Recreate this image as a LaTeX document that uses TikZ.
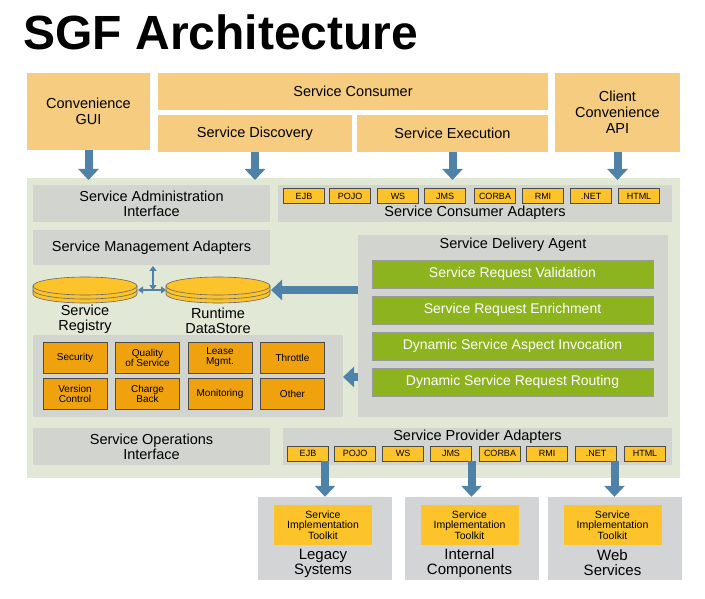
\documentclass[tikz,border=0pt]{standalone}
\usepackage{fontspec}
\setmainfont{Liberation Sans}
\usetikzlibrary{arrows.meta}
\definecolor{tan}{HTML}{F6CD80}
\definecolor{panel}{HTML}{E1E8D5}
\definecolor{gbox}{HTML}{D2D5CF}
\definecolor{org}{HTML}{F0A20E}
\definecolor{yel}{HTML}{FCC42A}
\definecolor{grn}{HTML}{8DB41E}
\definecolor{arr}{HTML}{4F82A8}
\definecolor{bot}{HTML}{D3D4D6}
\begin{document}
\begin{tikzpicture}[x=1pt,y=-1pt,
  tanbox/.style={fill=tan,draw=none,font=\fontsize{14.5}{16}\selectfont,align=center},
  gray/.style={fill=gbox,draw=none,font=\fontsize{14.5}{15}\selectfont,align=center},
  small/.style={fill=yel,draw=black!70,line width=0.6pt,font=\fontsize{9}{10}\selectfont,minimum width=41pt,minimum height=15pt,inner sep=0pt},
  pol/.style={fill=org,draw=black!70,line width=0.6pt,font=\fontsize{10}{10}\selectfont,align=center,minimum width=64pt,minimum height=31pt,inner sep=0pt},
  bar/.style={fill=grn,draw=black!40,text=white,font=\fontsize{14}{16}\selectfont,minimum width=281pt,minimum height=28pt,inner sep=0pt},
  fat/.style={arr,line width=8pt,-{Triangle[width=20pt,length=11pt]}},
  thin/.style={arr,line width=2.2pt,{Triangle[width=7pt,length=5pt]}-{Triangle[width=7pt,length=5pt]}},
  disk/.style={fill=yel,draw=black!60,line width=0.6pt},
  lbl/.style={font=\fontsize{14.5}{15}\selectfont,align=center,inner sep=0pt}]
\useasboundingbox (0,0) rectangle (705,599);
\node[anchor=west,font=\bfseries\fontsize{48}{50}\selectfont] (title) at (20,32) {SGF Architecture};
% top
\node[tanbox,minimum width=123pt,minimum height=77pt] (gui) at (88.5,111.5) {Convenience\\GUI};
\node[tanbox,minimum width=390pt,minimum height=37pt] (cons) at (353,91.5) {Service Consumer};
\node[tanbox,minimum width=194pt,minimum height=37pt] (disc) at (255,133.5) {Service Discovery};
\node[tanbox,minimum width=191pt,minimum height=37pt] (exec) at (452.5,133.5) {Service Execution};
\node[tanbox,minimum width=125pt,minimum height=79pt] (api) at (617.5,112.5) {Client\\Convenience\\API};
% panel
\node[fill=panel,minimum width=653pt,minimum height=300pt,inner sep=0pt] (panel) at (353.5,328) {};
\coordinate (pt) at (0,180);
\draw[fat] (gui.south) -- (gui.south |- pt);
\draw[fat] (disc.south) -- (disc.south |- pt);
\draw[fat] (exec.south) -- (exec.south |- pt);
\draw[fat] (api.south) -- (api.south |- pt);
\node[gray,minimum width=237pt,minimum height=37pt] (admin) at (151.5,203.5) {Service Administration\\Interface};
\node[gray,minimum width=394pt,minimum height=37pt,inner sep=2pt] (cad) at (475,203.5) {};
\node[lbl,anchor=south] (cadl) at (475,220) {Service Consumer Adapters};
\foreach \n/\t/\x in {c1/EJB/304,c2/POJO/350,c3/WS/398,c4/JMS/445,c5/CORBA/495,c6/RMI/543,c7/.NET/591,c8/HTML/639}
  \node[small] (\n) at (\x,196) {\t};
\node[gray,minimum width=237pt,minimum height=35pt] (sma) at (151.5,247.5) {Service Management Adapters};
% disks
\foreach \n/\x in {reg/85,rds/218}{
  \draw[disk] (\x-52,286) -- (\x-52,294) arc (180:0:52 and 9) -- (\x+52,286) -- cycle;
  \draw[disk] (\x-52,290) arc (180:0:52 and 9);
  \draw[disk] (\x,286) ellipse (52 and 9);
  \coordinate (\n) at (\x,290);
}
\node[lbl] (regl) at (85,319) {Service\\Registry};
\node[lbl] (rdsl) at (218,321) {Runtime\\DataStore};
\coordinate (vtop) at (153,266);
\coordinate (vbot) at (153,290);
\coordinate (hl) at (138,290);
\coordinate (hr) at (166,290);
\draw[thin] (vtop) -- (vbot);
\draw[thin] (hl) -- (hr);
% policy
\node[gray,minimum width=310pt,minimum height=82pt] (pol) at (188,376) {};
\node[pol] (p1) at (75,357.5) {Security};
\node[pol] (p2) at (147.5,357.5) {Quality\\of Service};
\node[pol] (p3) at (220,357.5) {Lease\\Mgmt.};
\node[pol] (p4) at (292.5,357.5) {Throttle};
\node[pol] (p5) at (75,394) {Version\\Control};
\node[pol] (p6) at (147.5,394) {Charge\\Back};
\node[pol] (p7) at (220,394) {Monitoring};
\node[pol] (p8) at (292.5,394) {Other};
% SDA
\node[gray,minimum width=310pt,minimum height=182pt] (sda) at (513,326) {};
\node[lbl] (sdal) at (513,245) {Service Delivery Agent};
\node[bar] (b1) at (512.5,274) {Service Request Validation};
\node[bar] (b2) at (512.5,310) {Service Request Enrichment};
\node[bar] (b3) at (512.5,346) {Dynamic Service Aspect Invocation};
\node[bar] (b4) at (512.5,382) {Dynamic Service Request Routing};
\draw[fat] (sda.west |- 0,290) -- (271,290);
\draw[fat] (sda.west |- 0,377) -- (343,377);
% ops
\node[gray,minimum width=237pt,minimum height=37pt] (ops) at (151.5,446.5) {Service Operations\\Interface};
\node[gray,minimum width=389pt,minimum height=37pt] (pad) at (477.5,446.5) {};
\node[lbl] (padl) at (477.5,437) {Service Provider Adapters};
\foreach \n/\t/\x in {s1/EJB/308,s2/POJO/355,s3/WS/403,s4/JMS/451,s5/CORBA/500,s6/RMI/547,s7/.NET/596,s8/HTML/645}
  \node[small] (\n) at (\x,453.5) {\t};
% bottom
\foreach \n/\x/\a/\b in {leg/325/Legacy/Systems,int/471.5/Internal/Components,web/614.5/Web/Services}{
  \node[fill=bot,minimum width=134pt,minimum height=83pt,inner sep=0pt] (\n) at (\x,538.5) {};
  \node[fill=yel,minimum width=98pt,minimum height=40pt,inner sep=0pt,align=center,font=\fontsize{10.5}{10.5}\selectfont] (\n t) at (\x-2,525) {Service\\Implementation\\Toolkit};
  \node[lbl,font=\fontsize{15}{15}\selectfont] (\n l) at (\x-2,563) {\a\\\b};
}
\draw[fat] (s1.south -| leg.north) -- (leg.north);
\draw[fat] (s4.south -| int.north) -- (int.north);
\draw[fat] (s7.south -| web.north) -- (web.north);
\end{tikzpicture}
\end{document}
